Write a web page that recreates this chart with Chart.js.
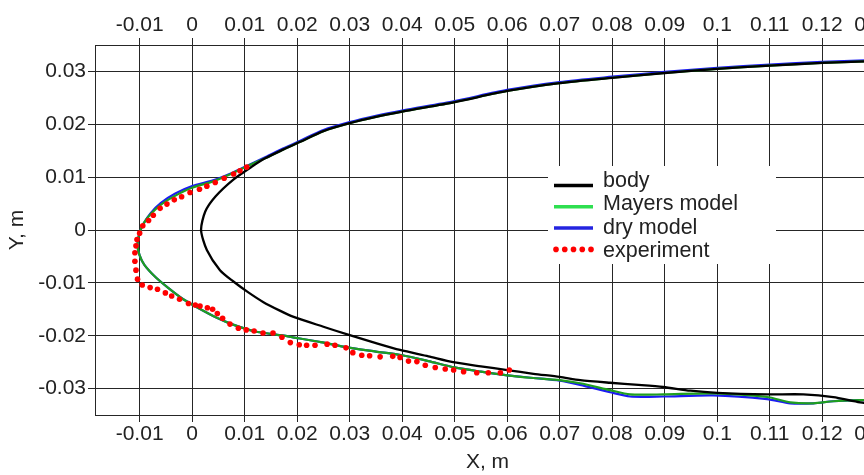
<!DOCTYPE html>
<html>
<head>
<meta charset="utf-8">
<script src="https://cdn.jsdelivr.net/npm/chart.js@4.4.1/dist/chart.umd.min.js"></script>
<style>
  html, body { margin: 0; padding: 0; background: #ffffff; overflow: hidden; }
  #wrap { width: 864px; height: 475px; overflow: hidden; position: relative; }
  canvas { display: block; }
</style>
</head>
<body>
<div id="wrap"><canvas id="profile" width="904" height="475"></canvas></div>
<script>
// Body contour, traced from the upper-right end round the nose to the lower-right end (m)
const bodyX = [0.131, 0.12, 0.11, 0.10, 0.09, 0.08, 0.07, 0.06, 0.05, 0.04,
  0.035, 0.03, 0.025, 0.0206, 0.0173, 0.014, 0.0114, 0.0078, 0.0044, 0.0025,
  0.0017, 0.0028, 0.0053, 0.0078, 0.0107, 0.0135, 0.0168, 0.0192, 0.025, 0.0297,
  0.035, 0.0396, 0.045, 0.0497, 0.055, 0.06, 0.065, 0.07, 0.0739, 0.0796,
  0.085, 0.0897, 0.0949, 0.1, 0.1095, 0.1164, 0.1221, 0.1272, 0.131];
const bodyY = [0.0320, 0.0316, 0.0311, 0.0305, 0.0297, 0.0288, 0.0278, 0.0263, 0.0242, 0.0224,
  0.0214, 0.0202, 0.0187, 0.0167, 0.0152, 0.0136, 0.0120, 0.0095, 0.0063, 0.0035,
  0.0, -0.0038, -0.0076, -0.0097, -0.0118, -0.0136, -0.0153, -0.0164, -0.0183, -0.0198,
  -0.0214, -0.0227, -0.0239, -0.0250, -0.0258, -0.0265, -0.0272, -0.0278, -0.0284, -0.0289,
  -0.0293, -0.0297, -0.0304, -0.0308, -0.0311, -0.0311, -0.0316, -0.0326, -0.0330];

// Cavity boundary, Mayers model
const mayersX = [0.131, 0.12, 0.11, 0.10, 0.09, 0.08, 0.07, 0.06, 0.05, 0.04,
  0.035, 0.03, 0.025, 0.0206, 0.0173, 0.014, 0.011, 0.0078, 0.004, 0.0,
  -0.003, -0.0058, -0.0078, -0.0092, -0.0101, -0.0104, -0.0100, -0.0091, -0.0070, -0.0045,
  -0.0017, 0.0009, 0.0047, 0.0078, 0.012, 0.0168, 0.0192, 0.0245, 0.0295, 0.035,
  0.04, 0.045, 0.05, 0.055, 0.06, 0.065, 0.07, 0.0739, 0.0796, 0.0834,
  0.0897, 0.0992, 0.1095, 0.1139, 0.1183, 0.1221, 0.1272, 0.131];
const mayersY = [0.0320, 0.0316, 0.0311, 0.0305, 0.0297, 0.0288, 0.0278, 0.0263, 0.0242, 0.0224,
  0.0214, 0.0202, 0.0187, 0.0167, 0.0152, 0.0136, 0.0123, 0.0108, 0.0092, 0.0080,
  0.0066, 0.0049, 0.0031, 0.0013, -0.0008, -0.0030, -0.0048, -0.0066, -0.0089, -0.0110,
  -0.0131, -0.0146, -0.0166, -0.0179, -0.0192, -0.0199, -0.0203, -0.0212, -0.0222, -0.0230,
  -0.0237, -0.0248, -0.0260, -0.0268, -0.0275, -0.0280, -0.0284, -0.0290, -0.0303, -0.0311,
  -0.0311, -0.0309, -0.0316, -0.0326, -0.0328, -0.0324, -0.0322, -0.0322];

// Cavity boundary, dry model
const dryX = [0.131, 0.12, 0.11, 0.10, 0.09, 0.08, 0.07, 0.06, 0.05, 0.04,
  0.035, 0.03, 0.025, 0.0206, 0.0173, 0.014, 0.011, 0.0078, 0.004, 0.0,
  -0.0032, -0.0060, -0.0079, -0.0092, -0.0101, -0.0104, -0.0100, -0.0091, -0.0070, -0.0045,
  -0.0017, 0.0009, 0.0047, 0.0078, 0.012, 0.0168, 0.0192, 0.0245, 0.0295, 0.035,
  0.04, 0.045, 0.05, 0.055, 0.06, 0.065, 0.07, 0.0739, 0.0796, 0.0834,
  0.0897, 0.0992, 0.1095, 0.1139, 0.1183, 0.1221, 0.1272, 0.131];
const dryY = [0.0322, 0.0318, 0.0313, 0.0307, 0.0299, 0.0290, 0.0280, 0.0265, 0.0244, 0.0226,
  0.0216, 0.0204, 0.0189, 0.0169, 0.0154, 0.0138, 0.0124, 0.0109, 0.0094, 0.0083,
  0.0069, 0.0051, 0.0032, 0.0013, -0.0008, -0.0030, -0.0048, -0.0066, -0.0089, -0.0110,
  -0.0131, -0.0146, -0.0166, -0.0179, -0.0192, -0.0199, -0.0203, -0.0212, -0.0222, -0.0230,
  -0.0237, -0.0248, -0.0260, -0.0268, -0.0275, -0.0280, -0.0285, -0.0293, -0.0307, -0.0315,
  -0.0315, -0.0313, -0.0320, -0.0328, -0.0328, -0.0324, -0.0322, -0.0322];

// Measured cavity boundary points
const expX = [0.0104, 0.0091, 0.0079, 0.0061, 0.0044, 0.0028, 0.0014, -0.0004, -0.0020, -0.0034,
  -0.0048, -0.0061, -0.0074, -0.0083, -0.0094, -0.0100, -0.0105, -0.0107, -0.0109, -0.0109,
  -0.0107, -0.0104, -0.0095, -0.0080, -0.0066, -0.0051, -0.0039, -0.0024, -0.0007, 0.0006,
  0.0015, 0.0029, 0.0039, 0.0048, 0.0058, 0.0072, 0.0088, 0.0103, 0.0118, 0.0135,
  0.0154, 0.0171, 0.0187, 0.0204, 0.0218, 0.0234, 0.0257, 0.0272, 0.0293, 0.0306,
  0.0323, 0.0338, 0.0358, 0.0382, 0.0396, 0.0412, 0.0428, 0.0444, 0.0463, 0.0482,
  0.0498, 0.0517, 0.0542, 0.0564, 0.0587, 0.0604];
const expY = [0.0119, 0.0112, 0.0106, 0.0098, 0.0090, 0.0083, 0.0077, 0.0071, 0.0063, 0.0057,
  0.0049, 0.0041, 0.0028, 0.0018, 0.0008, -0.0006, -0.0018, -0.0030, -0.0043, -0.0059,
  -0.0076, -0.0093, -0.0104, -0.0109, -0.0112, -0.0119, -0.0125, -0.0131, -0.0139, -0.0142,
  -0.0144, -0.0147, -0.0150, -0.0158, -0.0167, -0.0178, -0.0186, -0.0189, -0.0191, -0.0195,
  -0.0195, -0.0203, -0.0213, -0.0217, -0.0218, -0.0218, -0.0216, -0.0218, -0.0223, -0.0232,
  -0.0237, -0.0238, -0.0240, -0.0239, -0.0241, -0.0248, -0.0249, -0.0256, -0.0260, -0.0263,
  -0.0265, -0.0268, -0.0270, -0.0270, -0.0270, -0.0265];

// Axis ticks
const xTickValues = [-0.01, 0, 0.01, 0.02, 0.03, 0.04, 0.05, 0.06, 0.07, 0.08, 0.09, 0.1, 0.11, 0.12, 0.13];
const xTickLabels = ['-0.01', '0', '0.01', '0.02', '0.03', '0.04', '0.05', '0.06', '0.07', '0.08', '0.09', '0.1', '0.11', '0.12', '0.13'];
const yTickValues = [-0.03, -0.02, -0.01, 0, 0.01, 0.02, 0.03];
const yTickLabels = ['-0.03', '-0.02', '-0.01', '0', '0.01', '0.02', '0.03'];

const pairs = (xs, ys) => xs.map((x, i) => ({ x: x, y: ys[i] }));

const FONT = "'Liberation Sans', Arial, Helvetica, sans-serif";
const TEXT = '#222222';
const GRID = '#262626';
const tickFont = { family: FONT, size: 21 };

// Line-sample legend drawn inside the plot on a white panel
const seriesKey = {
  id: 'seriesKey',
  afterDraw(chart, args, o) {
    const ctx = chart.ctx;
    ctx.save();
    ctx.fillStyle = '#ffffff';
    ctx.fillRect(o.left, o.top, o.width, o.height);
    ctx.font = o.fontSize + 'px ' + FONT;
    ctx.textBaseline = 'alphabetic';
    ctx.textAlign = 'left';
    chart.data.datasets.forEach((ds, i) => {
      const y = o.swatchRow + i * o.swatchGap;
      const x0 = o.swatchX;
      const x1 = o.swatchX + o.swatchWidth;
      if (ds.showLine === false) {
        ctx.fillStyle = ds.keyColor;
        for (let k = 0; k < 5; k++) {
          ctx.beginPath();
          ctx.arc(x0 + 2 + k * (o.swatchWidth - 4) / 4, y, 2.8, 0, Math.PI * 2);
          ctx.fill();
        }
      } else {
        ctx.strokeStyle = ds.keyColor;
        ctx.lineWidth = 3.5;
        ctx.beginPath();
        ctx.moveTo(x0, y);
        ctx.lineTo(x1, y);
        ctx.stroke();
      }
      ctx.fillStyle = TEXT;
      ctx.fillText(ds.label, o.textX, o.textRow + i * o.textGap);
    });
    ctx.restore();
  }
};

const xAxisBase = {
  type: 'linear',
  min: -0.0185,
  max: 0.131,
  afterBuildTicks: s => { s.ticks = xTickValues.map(v => ({ value: v })); },
  ticks: {
    callback: (v, i) => xTickLabels[i],
    font: tickFont, color: TEXT, padding: 0, autoSkip: false, maxRotation: 0
  },
  border: { color: GRID, width: 1 }
};

new Chart(document.getElementById('profile'), {
  type: 'scatter',
  data: {
    datasets: [
      { label: 'body', data: pairs(bodyX, bodyY), showLine: true, borderColor: '#000000',
        keyColor: '#000000', borderWidth: 2.3, pointRadius: 0, tension: 0.25, order: 1 },
      { label: 'Mayers model', data: pairs(mayersX, mayersY), showLine: true, borderColor: '#1f9f1f',
        keyColor: '#2edf50', borderWidth: 2.2, pointRadius: 0, tension: 0.25, order: 2 },
      { label: 'dry model', data: pairs(dryX, dryY), showLine: true, borderColor: '#1c1cf2',
        keyColor: '#2424e0', borderWidth: 2.2, pointRadius: 0, tension: 0.25, order: 3 },
      { label: 'experiment', data: pairs(expX, expY), showLine: false, keyColor: '#ff0000',
        pointRadius: 2.8, pointBackgroundColor: '#ff0000', pointBorderWidth: 0, order: 0 }
    ]
  },
  options: {
    responsive: false,
    animation: false,
    events: [],
    layout: { padding: { left: 0, right: 24, top: 0, bottom: 0 } },
    plugins: {
      legend: { display: false },
      tooltip: { enabled: false },
      seriesKey: {
        left: 548, top: 166, width: 228, height: 98,
        swatchX: 554, swatchWidth: 39, swatchRow: 185.5, swatchGap: 21.3,
        textX: 603, textRow: 187, textGap: 23.3, fontSize: 21.5
      }
    },
    scales: {
      x: Object.assign({}, xAxisBase, {
        position: 'bottom',
        afterFit: s => { s.height = 60; },
        grid: { color: GRID, lineWidth: 1, tickLength: 7 },
        title: { display: true, text: 'X, m', font: { family: FONT, size: 21 }, color: TEXT,
                 padding: { top: 0, bottom: 0 } }
      }),
      xTop: Object.assign({}, xAxisBase, {
        axis: 'x',
        position: 'top',
        afterFit: s => { s.height = 45; },
        grid: { color: GRID, lineWidth: 1, tickLength: 7, drawOnChartArea: false }
      }),
      y: {
        type: 'linear',
        position: 'left',
        min: -0.035,
        max: 0.035,
        afterBuildTicks: s => { s.ticks = yTickValues.map(v => ({ value: v })); },
        afterFit: s => { s.width = 95; },
        ticks: {
          callback: (v, i) => yTickLabels[i],
          font: tickFont, color: TEXT, padding: 2, autoSkip: false
        },
        grid: { color: GRID, lineWidth: 1, tickLength: 7 },
        border: { color: GRID, width: 1 },
        title: { display: true, text: 'Y, m', font: { family: FONT, size: 21 }, color: TEXT,
                 padding: { top: 5, bottom: 0 } }
      }
    }
  },
  plugins: [seriesKey]
});
</script>
</body>
</html>
